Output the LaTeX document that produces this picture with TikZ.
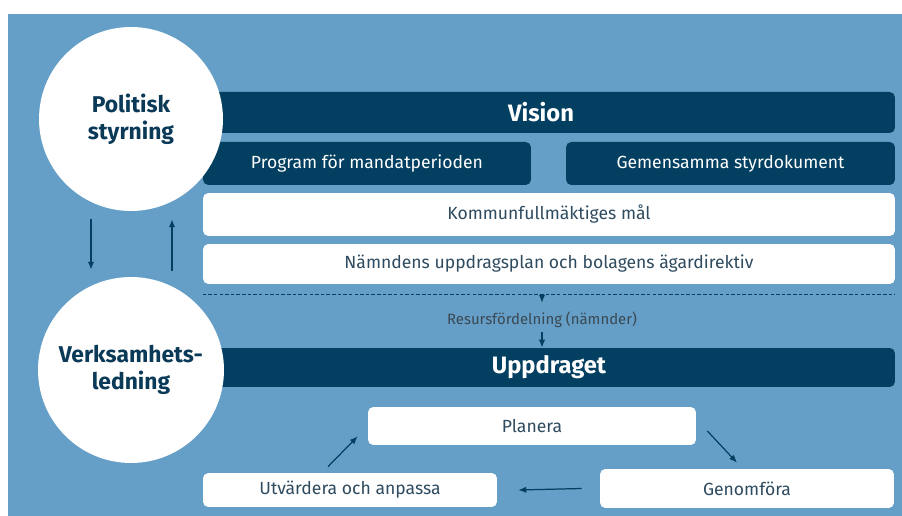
\documentclass[tikz,border=0pt]{standalone}
\usepackage{fontspec}
\setmainfont{Fira Sans}
\usepackage{tikz}
\usetikzlibrary{calc,arrows.meta}

\definecolor{bgblue}{HTML}{659FC7}
\definecolor{navy}{HTML}{023F60}
\definecolor{boxtext}{HTML}{2E4B5F}
\definecolor{restext}{HTML}{3A4852}
\definecolor{circtext}{HTML}{0A3A58}

\tikzset{
  lightbox/.style={fill=white, rounded corners=3pt, inner sep=0pt, text=boxtext,
                   font=\fontsize{10}{12}\selectfont},
  darkbox/.style={fill=navy, rounded corners=3pt, inner sep=0pt, text=white,
                  font=\fontsize{10}{12}\selectfont},
  headbar/.style={darkbox, font=\fontsize{13.5}{16}\selectfont\bfseries},
  bigcirc/.style={circle, fill=white, inner sep=0pt, text=circtext, align=center,
                  font=\fontsize{13}{15.5}\selectfont\bfseries},
  arr/.style={draw=navy, line width=0.7pt, -{Latex[length=4.5pt,width=3.6pt]}}
}

\begin{document}
\begin{tikzpicture}[x=0.02cm, y=-0.02cm]
        \useasboundingbox (0,0) rectangle (902,516);
        \fill [bgblue] (8,14) rectangle (902,516);

        \node [headbar, minimum width=14.16cm, minimum height=0.82cm] (vision) at (541,112.5) {Vision};
        \node [darkbox, minimum width=6.56cm, minimum height=0.86cm] (prog) at (367,163.5) {Program för mandatperioden};
        \node [darkbox, minimum width=6.58cm, minimum height=0.86cm] (gem) at (730.5,163.5) {Gemensamma styrdokument};
        \node [lightbox, minimum width=13.84cm, minimum height=0.86cm] (kfm) at (549,214.5) {Kommunfullmäktiges mål};
        \node [lightbox, minimum width=13.84cm, minimum height=0.80cm] (nmd) at (549,264) {Nämndens uppdragsplan och bolagens ägardirektiv};

        \coordinate (cutw) at ($(nmd.south west)+(0,10)$);
        \coordinate (cute) at ($(nmd.south east)+(0,10)$);
        \draw [navy, line width=0.6pt, dash pattern=on 2pt off 1.2pt] (cutw) -- (cute);

        \node [text=restext, inner sep=0pt, font=\fontsize{8.5}{10}\selectfont] (res) at (542,320) {Resursfördelning (nämnder)};
        \node [headbar, minimum width=13.84cm, minimum height=0.78cm] (uppdr) at (549,367.5) {Uppdraget};

        \node [lightbox, minimum width=6.56cm, minimum height=0.76cm] (plan) at (532,426) {Planera};
        \node [lightbox, minimum width=5.88cm, minimum height=0.78cm] (gen) at (747,488.5) {Genomföra};
        \node [lightbox, minimum width=5.88cm, minimum height=0.68cm] (utv) at (350,490) {Utvärdera och anpassa};

        \node [bigcirc, minimum size=3.68cm] (pol) at (131,119) {Politisk\\styrning};
        \node [bigcirc, minimum size=3.72cm] (ver) at (131,370) {Verksamhets-\\ledning};

        \draw [arr] ($(pol.south)+(-40,8)$) -- ($(ver.north)+(-40,-7)$);
        \draw [arr] ($(ver.north)+(41,-6)$) -- ($(pol.south)+(41,8)$);

        \draw [arr] (cutw -| res) -- ($(res.north)+(0,-9)$);
        \draw [arr] ($(res.south)+(0,4)$) -- (res |- uppdr.north);

        \draw [arr] ($(plan.east)+(11,5)$) -- ($(gen.north)+(-10,-6)$);
        \draw [arr] ($(gen.west)+(-18,0)$) -- ($(utv.east)+(21,0)$);
        \draw [arr] ($(utv.north)+(-22,-6)$) -- ($(plan.south west)+(-10,-9)$);
      \end{tikzpicture}
\end{document}
